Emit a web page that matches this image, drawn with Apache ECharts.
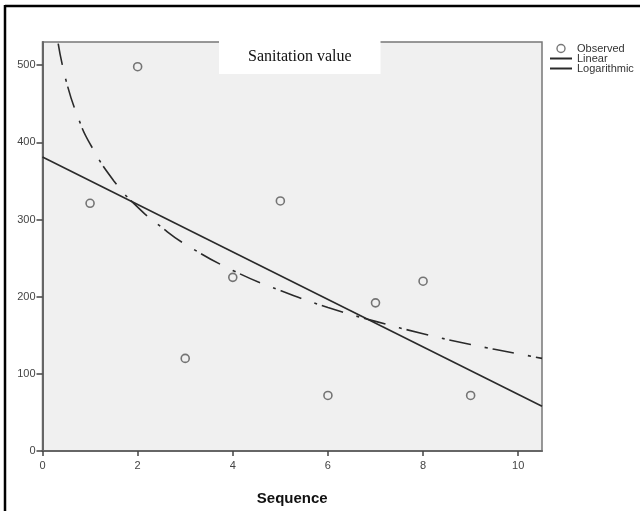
<!DOCTYPE html>
<html>
<head>
<meta charset="utf-8">
<script src="https://cdn.jsdelivr.net/npm/echarts@6/dist/echarts.min.js"></script>
<style>
  html, body { margin: 0; padding: 0; background: #fff; }
  #main { width: 640px; height: 511px; }
</style>
</head>
<body>
<div id="main"></div>
<script>
// Sanitation value - observed points with linear and logarithmic fit
var chart = echarts.init(document.getElementById("main"));

var seqX = [1, 2, 3, 4, 5, 6, 7, 8, 9];
var observed = [321, 498, 120, 225, 324, 72, 192, 220, 72];

// fitted lines
var linearX = [0, 10.5];
var linearY = [381, 58];
var logX = [0.33, 0.5, 0.75, 1, 1.5, 2, 2.5, 3, 4, 5, 6, 7, 8, 9, 10, 10.5];
var logY = [528, 479, 432, 398, 350, 316, 290, 268, 234, 208, 186, 168, 152, 138, 126, 120];

function pairs(xs, ys) {
    return xs.map(function (x, i) { return [x, ys[i]]; });
}

var option = {
    backgroundColor: '#fff',
    animation: false,
    title: {
        text: 'Sanitation value',
        left: 219,
        top: 40,
        backgroundColor: '#fff',
        padding: [9, 29],
        textStyle: {
            fontFamily: 'Liberation Serif',
            fontWeight: 'normal',
            fontSize: 16,
            lineHeight: 16,
            color: '#111',
        },
        z: 10,
    },
    legend: {
        orient: 'vertical',
        left: 549,
        top: 43,
        padding: 0,
        itemWidth: 22,
        itemHeight: 8,
        itemGap: -1,
        textStyle: {
            fontFamily: 'Liberation Sans',
            fontSize: 11,
            lineHeight: 9,
            color: '#333',
        },
        data: [
            { name: 'Observed', itemStyle: { borderWidth: 1.4 } },
            { name: 'Linear' },
            { name: 'Logarithmic', lineStyle: { type: 'solid' } },
        ],
    },
    grid: {
        left: 42.5,
        right: 98,
        top: 42,
        bottom: 59,
        show: true,
        backgroundColor: '#f0f0f0',
        borderColor: '#777',
        borderWidth: 1.5,
    },
    xAxis: {
        type: 'value',
        min: 0,
        max: 10.5,
        interval: 2,
        name: 'Sequence',
        nameLocation: 'middle',
        nameGap: 40,
        nameTextStyle: {
            fontFamily: 'Liberation Sans',
            fontWeight: 'bold',
            fontSize: 15,
            color: '#111',
        },
        axisLine: { onZero: false, lineStyle: { color: '#666', width: 2 } },
        axisTick: { length: 5, lineStyle: { color: '#444', width: 1.5 } },
        axisLabel: { fontFamily: 'Liberation Sans', fontSize: 11, color: '#444', margin: 9, showMaxLabel: false },
        splitLine: { show: false },
    },
    yAxis: {
        type: 'value',
        min: 0,
        max: 530,
        interval: 100,
        axisLine: { show: true, onZero: false, lineStyle: { color: '#666', width: 2 } },
        axisTick: { show: true, length: 6, lineStyle: { color: '#444', width: 1.5 } },
        axisLabel: { fontFamily: 'Liberation Sans', fontSize: 11, color: '#444', margin: 7, showMaxLabel: false },
        splitLine: { show: false },
    },
    series: [
        {
            name: 'Observed',
            type: 'scatter',
            symbol: 'circle',
            symbolSize: 8,
            itemStyle: { color: 'rgba(0,0,0,0)', borderColor: '#555', borderWidth: 1.6 },
            data: pairs(seqX, observed),
            z: 3,
        },
        {
            name: 'Linear',
            type: 'line',
            symbol: 'none',
            // transparent item colour keeps the legend icon a plain line
            itemStyle: { color: 'rgba(0,0,0,0)' },
            lineStyle: { color: '#2a2a2a', width: 1.6 },
            data: pairs(linearX, linearY),
        },
        {
            name: 'Logarithmic',
            type: 'line',
            symbol: 'none',
            smooth: true,
            itemStyle: { color: 'rgba(0,0,0,0)' },
            lineStyle: { color: '#2a2a2a', width: 1.6, type: [22, 14, 3, 5] },
            data: pairs(logX, logY),
        },
    ],
    graphic: [
        { type: 'line', shape: { x1: 5, y1: 6, x2: 640, y2: 6 }, style: { stroke: '#000', lineWidth: 2.5 }, z: 20 },
        { type: 'line', shape: { x1: 5, y1: 5, x2: 5, y2: 511 }, style: { stroke: '#000', lineWidth: 2.5 }, z: 20 },
    ],
};

chart.setOption(option);
window.addEventListener("resize", function () {
    chart.resize();
});
</script>
</body>
</html>
